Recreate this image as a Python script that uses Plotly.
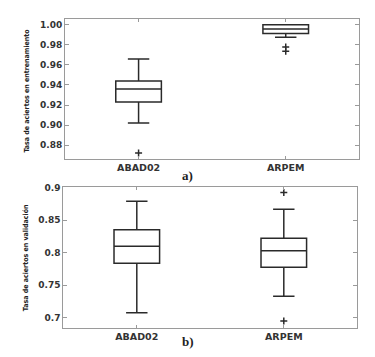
import plotly.graph_objects as go

OFF = 8  # default page body margin
W, H = 375 - OFF, 357 - OFF

categories = ["ABAD02", "ARPEM"]
cat_pos = [1, 2]

# a) training accuracy
train_q1 = [0.923, 0.9914]
train_median = [0.936, 0.9958]
train_q3 = [0.944, 1.000]
train_lower = [0.902, 0.9875]
train_upper = [0.966, 1.000]
train_out_x = [1, 2, 2]
train_out_y = [0.8722, 0.978, 0.9737]

# b) validation accuracy
val_q1 = [0.7835, 0.7775]
val_median = [0.810, 0.803]
val_q3 = [0.835, 0.822]
val_lower = [0.7076, 0.733]
val_upper = [0.879, 0.8666]
val_out_x = [2, 2]
val_out_y = [0.8924, 0.695]

train_ticks = [0.88, 0.90, 0.92, 0.94, 0.96, 0.98, 1.00]
train_ticktext = ["0.88", "0.90", "0.92", "0.94", "0.96", "0.98", "1.00"]
val_ticks = [0.7, 0.75, 0.8, 0.85, 0.9]
val_ticktext = ["0.7", "0.75", "0.8", "0.85", "0.9"]


def px(x):
    return (x - OFF) / W


def py(y):
    return 1 - (y - OFF) / H


LINE = "#2a2a2a"
FRAME = "#9a9a9a"
TICKFONT = dict(family="DejaVu Sans", size=9, color="#333", weight="bold")
NARROW = "Liberation Sans Narrow, DejaVu Sans Condensed, Roboto Condensed, Arial Narrow, Liberation Sans, sans-serif"

fig = go.Figure()

for i in range(2):
    fig.add_trace(go.Box(
        x=[cat_pos[i]], q1=[train_q1[i]], median=[train_median[i]], q3=[train_q3[i]],
        lowerfence=[train_lower[i]], upperfence=[train_upper[i]],
        width=0.31, whiskerwidth=0.47, fillcolor="white",
        line=dict(color=LINE, width=1.5), boxpoints=False,
        xaxis="x", yaxis="y", showlegend=False, hoverinfo="skip"))
    fig.add_trace(go.Box(
        x=[cat_pos[i]], q1=[val_q1[i]], median=[val_median[i]], q3=[val_q3[i]],
        lowerfence=[val_lower[i]], upperfence=[val_upper[i]],
        width=0.31, whiskerwidth=0.47, fillcolor="white",
        line=dict(color=LINE, width=1.5), boxpoints=False,
        xaxis="x2", yaxis="y2", showlegend=False, hoverinfo="skip"))

fig.add_trace(go.Scatter(x=train_out_x, y=train_out_y, mode="markers",
                         marker=dict(symbol="cross-thin", size=5, line=dict(color=LINE, width=1.5)),
                         xaxis="x", yaxis="y", showlegend=False))
fig.add_trace(go.Scatter(x=val_out_x, y=val_out_y, mode="markers",
                         marker=dict(symbol="cross-thin", size=5, line=dict(color=LINE, width=1.5)),
                         xaxis="x2", yaxis="y2", showlegend=False))

xcommon = dict(range=[0.5, 2.5], tickvals=cat_pos, ticktext=categories,
               ticks="inside", ticklen=3, tickcolor=FRAME, mirror="ticks",
               showline=True, linecolor=FRAME, linewidth=1, showgrid=False,
               zeroline=False, tickfont=dict(family="DejaVu Sans", size=9.5, color="#333", weight="bold"))
ycommon = dict(ticks="inside", ticklen=4, tickcolor=FRAME, mirror="ticks",
               showline=True, linecolor=FRAME, linewidth=1, showgrid=False,
               zeroline=False, tickfont=TICKFONT)

fig.update_layout(
    width=W, height=H, autosize=False,
    margin=dict(l=0, r=0, t=0, b=0),
    paper_bgcolor="white", plot_bgcolor="white",
    xaxis=dict(domain=[px(65), px(359.3)], anchor="y", **xcommon),
    yaxis=dict(domain=[py(156.7), py(15)], anchor="x", range=[0.8662, 1.0059],
               tickvals=train_ticks, ticktext=train_ticktext, **ycommon),
    xaxis2=dict(domain=[px(63.3), px(357.3)], anchor="y2", **xcommon),
    yaxis2=dict(domain=[py(327.7), py(185)], anchor="x2", range=[0.684, 0.901],
                tickvals=val_ticks, ticktext=val_ticktext, **ycommon),
    annotations=[
        dict(text="Tasa de aciertos en entrenamiento", x=px(27), y=py(87.5),
             xref="paper", yref="paper", textangle=-90, showarrow=False,
             xanchor="center", yanchor="middle",
             font=dict(family=NARROW, size=7, color="#222", weight="bold")),
        dict(text="Tasa de aciertos en validación", x=px(26), y=py(257),
             xref="paper", yref="paper", textangle=-90, showarrow=False,
             xanchor="center", yanchor="middle",
             font=dict(family=NARROW, size=7, color="#222", weight="bold")),
        dict(text="a)", x=px(187), y=py(173), xref="paper", yref="paper", showarrow=False,
             xanchor="center", yanchor="middle",
             font=dict(family="Liberation Serif", size=13, color="#222", weight="bold")),
        dict(text="b)", x=px(188), y=py(341.7), xref="paper", yref="paper", showarrow=False,
             xanchor="center", yanchor="middle",
             font=dict(family="Liberation Serif", size=13, color="#222", weight="bold")),
    ],
)

fig.write_html("out.html")
